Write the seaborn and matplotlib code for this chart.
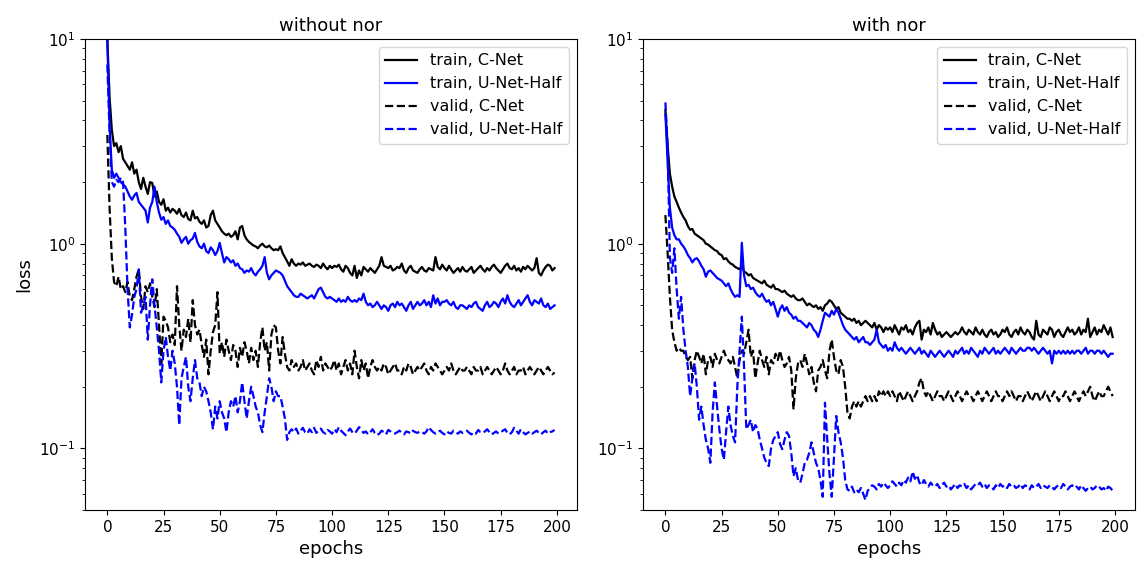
import numpy as np
import pandas as pd
import matplotlib
matplotlib.use("Agg")
import matplotlib.pyplot as plt
import seaborn as sns

epochs = list(range(200))

# ---- without nor ----
left_train_cnet = [
    10.0, 5.2, 3.6, 3.0, 3.1, 2.8, 3.0, 2.6, 2.5, 2.4,
    2.3, 2.5, 2.2, 2.3, 2.0, 1.85, 2.1, 1.9, 1.75, 2.0,
    1.98, 1.7, 1.8, 1.6, 1.55, 1.65, 1.45, 1.5, 1.42, 1.48,
    1.45, 1.4, 1.48, 1.38, 1.35, 1.42, 1.32, 1.3, 1.45, 1.33,
    1.35, 1.28, 1.25, 1.3, 1.2, 1.22, 1.38, 1.45, 1.3, 1.25,
    1.2, 1.15, 1.12, 1.1, 1.12, 1.08, 1.1, 1.15, 1.05, 1.2,
    1.22, 1.1, 1.05, 1.02, 1.0, 0.98, 0.97, 0.95, 0.98, 1.0,
    0.97, 0.96, 0.98, 0.95, 0.93, 0.94, 0.93, 0.97, 0.9, 0.86,
    0.82, 0.78, 0.84, 0.8, 0.78, 0.8, 0.79, 0.81, 0.78, 0.79,
    0.8, 0.78, 0.77, 0.79, 0.78, 0.76, 0.8, 0.77, 0.75, 0.78,
    0.76, 0.78, 0.77, 0.79, 0.75, 0.73, 0.78, 0.76, 0.72, 0.7,
    0.78, 0.68, 0.74, 0.7, 0.77, 0.75, 0.73, 0.76, 0.74, 0.72,
    0.75, 0.78, 0.86, 0.78, 0.77, 0.76, 0.78, 0.74, 0.75, 0.77,
    0.76, 0.8, 0.74, 0.72, 0.76, 0.78, 0.74, 0.73, 0.72, 0.75,
    0.77, 0.74, 0.73, 0.76, 0.75, 0.74, 0.86, 0.77, 0.75, 0.79,
    0.76, 0.74, 0.78, 0.75, 0.72, 0.74, 0.76, 0.73, 0.77, 0.74,
    0.73, 0.75, 0.77, 0.72, 0.74, 0.76, 0.78, 0.75, 0.73, 0.76,
    0.74, 0.77, 0.79, 0.76, 0.74, 0.72, 0.75, 0.78, 0.8, 0.76,
    0.75, 0.78, 0.74, 0.76, 0.73, 0.77, 0.75, 0.78, 0.76, 0.74,
    0.76, 0.85, 0.72, 0.7, 0.74, 0.77, 0.79, 0.78, 0.74, 0.76,
]
left_train_unet = [
    10.0, 3.8, 2.3, 2.1, 2.2, 2.1, 2.0, 1.95, 1.9, 1.8,
    1.7, 1.64, 1.72, 1.77, 1.6, 1.55, 1.5, 1.45, 1.27, 1.5,
    1.6, 1.9, 1.6, 1.42, 1.31, 1.35, 1.25, 1.3, 1.22, 1.2,
    1.17, 1.12, 1.08, 1.01, 1.05, 1.08, 1.0, 1.04, 1.06, 1.13,
    1.02, 0.97, 0.95, 1.0, 0.92, 0.9, 0.96, 0.93, 0.88, 0.92,
    1.01, 0.9, 0.81, 0.86, 0.84, 0.81, 0.83, 0.78, 0.8, 0.76,
    0.75, 0.72, 0.74, 0.73, 0.76, 0.72, 0.7, 0.73, 0.75, 0.78,
    0.86, 0.72, 0.67, 0.7, 0.72, 0.74, 0.73, 0.72, 0.7, 0.66,
    0.62, 0.6, 0.58, 0.56, 0.55, 0.55, 0.57, 0.56, 0.55, 0.54,
    0.55, 0.56, 0.54, 0.57, 0.6, 0.61, 0.58, 0.55, 0.54, 0.55,
    0.54, 0.53, 0.52, 0.54, 0.52, 0.53, 0.52, 0.55, 0.53, 0.52,
    0.53, 0.52, 0.54, 0.53, 0.57, 0.52, 0.5, 0.51, 0.49, 0.5,
    0.52, 0.5, 0.48, 0.5, 0.49, 0.47, 0.5, 0.51, 0.49, 0.52,
    0.5, 0.51, 0.49, 0.47, 0.5, 0.52, 0.48, 0.5, 0.52, 0.5,
    0.51, 0.53, 0.5, 0.52, 0.49, 0.56, 0.51, 0.54, 0.5, 0.52,
    0.52, 0.53, 0.51, 0.5, 0.52, 0.49, 0.48, 0.5, 0.5, 0.49,
    0.48, 0.5, 0.49, 0.51, 0.52, 0.49, 0.48, 0.47, 0.5, 0.52,
    0.49, 0.5, 0.52, 0.51, 0.49, 0.52, 0.54, 0.51, 0.56, 0.52,
    0.5, 0.49, 0.51, 0.53, 0.5, 0.52, 0.54, 0.56, 0.52, 0.5,
    0.53, 0.52, 0.51, 0.54, 0.5, 0.49, 0.51, 0.48, 0.49, 0.5,
]
left_valid_cnet = [
    3.4, 1.5, 0.85, 0.65, 0.62, 0.69, 0.6, 0.62, 0.58, 0.65,
    0.55, 0.53, 0.6, 0.69, 0.75, 0.55, 0.48, 0.62, 0.58, 0.64,
    0.55, 0.49, 0.6, 0.4, 0.26, 0.44, 0.42, 0.39, 0.33, 0.36,
    0.32, 0.62, 0.4, 0.3, 0.38, 0.35, 0.43, 0.33, 0.53, 0.4,
    0.36, 0.38, 0.32, 0.28, 0.34, 0.23, 0.3, 0.37, 0.4, 0.58,
    0.29, 0.33, 0.28, 0.34, 0.3, 0.27, 0.32, 0.3, 0.25, 0.31,
    0.28, 0.33, 0.3, 0.26, 0.31, 0.27, 0.3, 0.25, 0.33, 0.39,
    0.3, 0.33, 0.24, 0.36, 0.4, 0.39, 0.3, 0.26, 0.35, 0.29,
    0.25, 0.24, 0.27, 0.25, 0.26, 0.24, 0.25, 0.27, 0.24, 0.25,
    0.26, 0.24, 0.23, 0.27, 0.25, 0.28, 0.24, 0.26, 0.25, 0.24,
    0.25, 0.27, 0.24, 0.26, 0.23, 0.25, 0.27, 0.24, 0.26, 0.23,
    0.3, 0.25, 0.22, 0.27, 0.24, 0.26, 0.22, 0.25, 0.27, 0.25,
    0.24, 0.25, 0.24, 0.26, 0.25, 0.23, 0.24, 0.25, 0.26, 0.24,
    0.24, 0.23, 0.25, 0.24, 0.26, 0.25, 0.23, 0.24, 0.25, 0.24,
    0.25, 0.26, 0.24, 0.23, 0.25, 0.24, 0.26, 0.25, 0.24, 0.23,
    0.24, 0.25, 0.24, 0.26, 0.24, 0.23, 0.24, 0.25, 0.24, 0.24,
    0.25, 0.24, 0.23, 0.25, 0.24, 0.24, 0.25, 0.23, 0.24, 0.25,
    0.24, 0.23, 0.24, 0.25, 0.24, 0.23, 0.24, 0.26, 0.24, 0.23,
    0.24, 0.25, 0.23, 0.24, 0.24, 0.25, 0.23, 0.24, 0.25, 0.24,
    0.23, 0.24, 0.25, 0.24, 0.23, 0.24, 0.25, 0.24, 0.23, 0.235,
]
left_valid_unet = [
    7.5, 3.5, 2.0, 1.9, 2.05, 2.0, 2.1, 2.0, 1.2, 0.6,
    0.39, 0.45, 0.55, 0.6, 0.75, 0.46, 0.5, 0.55, 0.34, 0.5,
    0.67, 0.5, 0.39, 0.3, 0.21, 0.3, 0.35, 0.28, 0.24, 0.3,
    0.26, 0.2, 0.13, 0.22, 0.25, 0.28, 0.2, 0.17, 0.22, 0.27,
    0.22, 0.21, 0.18, 0.2, 0.19, 0.17, 0.15, 0.124, 0.16, 0.14,
    0.17, 0.15, 0.14, 0.12, 0.15, 0.17, 0.16, 0.18, 0.15, 0.17,
    0.21, 0.17, 0.14, 0.17, 0.2, 0.18, 0.16, 0.15, 0.13, 0.12,
    0.15, 0.18, 0.22, 0.2, 0.17, 0.19, 0.18, 0.18, 0.16, 0.14,
    0.11, 0.12, 0.124, 0.12, 0.125, 0.118, 0.122, 0.126, 0.12, 0.118,
    0.124, 0.12, 0.126, 0.119, 0.122, 0.125, 0.12, 0.118, 0.123, 0.121,
    0.118, 0.124, 0.12, 0.127, 0.122, 0.119, 0.116, 0.121, 0.125, 0.12,
    0.118, 0.122, 0.127, 0.123, 0.119, 0.121, 0.117, 0.12, 0.124, 0.119,
    0.116, 0.118, 0.122, 0.12, 0.117, 0.123, 0.121, 0.119, 0.118, 0.12,
    0.122, 0.119, 0.117, 0.121, 0.12, 0.118, 0.122, 0.12, 0.119, 0.121,
    0.12, 0.118, 0.121, 0.127, 0.123, 0.12, 0.118, 0.12, 0.122, 0.119,
    0.117, 0.121, 0.119, 0.118, 0.122, 0.12, 0.118, 0.121, 0.119, 0.12,
    0.122, 0.119, 0.117, 0.12, 0.118, 0.123, 0.12, 0.119, 0.121, 0.124,
    0.12, 0.117, 0.119, 0.121, 0.118, 0.12, 0.122, 0.124, 0.119, 0.117,
    0.12, 0.126, 0.122, 0.118, 0.124, 0.12, 0.117, 0.119, 0.121, 0.118,
    0.12, 0.122, 0.119, 0.117, 0.12, 0.122, 0.118, 0.12, 0.121, 0.123,
]

# ---- with nor ----
right_train_cnet = [
    4.5, 3.0, 2.2, 1.9, 1.7, 1.6, 1.5, 1.42, 1.35, 1.3,
    1.22, 1.17, 1.18, 1.12, 1.1, 1.08, 1.06, 1.04, 1.0, 0.99,
    0.97, 0.95, 0.93, 0.92, 0.89, 0.88, 0.84, 0.85, 0.82, 0.8,
    0.79, 0.77, 0.76, 0.75, 0.78, 0.73, 0.72, 0.7, 0.71, 0.68,
    0.67, 0.66, 0.65, 0.64, 0.66, 0.63, 0.62, 0.61, 0.63, 0.6,
    0.6, 0.59, 0.58, 0.59, 0.57, 0.56, 0.55, 0.56, 0.54, 0.53,
    0.53, 0.54, 0.52, 0.5, 0.51, 0.5, 0.49, 0.5, 0.48, 0.49,
    0.47, 0.5, 0.51, 0.53, 0.52, 0.5, 0.48, 0.49, 0.46, 0.45,
    0.44, 0.43, 0.43, 0.42, 0.43, 0.41, 0.42, 0.4, 0.41, 0.42,
    0.41, 0.4, 0.39, 0.41, 0.38, 0.4, 0.39, 0.37, 0.39, 0.38,
    0.39, 0.37, 0.4, 0.38, 0.36, 0.39, 0.38, 0.4, 0.37, 0.38,
    0.36, 0.39, 0.41, 0.42, 0.34, 0.38, 0.37, 0.39, 0.36, 0.41,
    0.38, 0.36, 0.37, 0.35, 0.36, 0.37, 0.36, 0.35, 0.36, 0.37,
    0.36, 0.37, 0.39, 0.37, 0.36, 0.38, 0.37, 0.36, 0.39, 0.37,
    0.36, 0.38, 0.36, 0.35, 0.37, 0.38, 0.36, 0.37, 0.35, 0.36,
    0.38, 0.37, 0.39, 0.36, 0.35, 0.37, 0.38, 0.36, 0.39, 0.37,
    0.36, 0.38, 0.37, 0.35, 0.34, 0.42, 0.36, 0.35, 0.38, 0.37,
    0.36, 0.39, 0.38, 0.35, 0.37, 0.38, 0.36, 0.35, 0.37, 0.39,
    0.37, 0.38, 0.36, 0.37, 0.39, 0.36, 0.38, 0.37, 0.43, 0.35,
    0.37, 0.39, 0.36, 0.38, 0.37, 0.4, 0.38, 0.36, 0.39, 0.35,
]
right_train_unet = [
    4.3, 2.5, 1.5, 1.2, 1.1, 1.05, 1.05, 1.0, 0.97, 0.93,
    0.88, 0.85, 0.81, 0.84, 0.85, 0.82, 0.78, 0.75, 0.69, 0.73,
    0.74, 0.72, 0.7, 0.68, 0.67, 0.66, 0.64, 0.62, 0.64, 0.6,
    0.57, 0.55, 0.56, 0.55, 1.01, 0.7, 0.62, 0.63, 0.6, 0.61,
    0.58, 0.56, 0.55, 0.57, 0.54, 0.52, 0.53, 0.5, 0.52, 0.48,
    0.44, 0.48, 0.5, 0.47, 0.49, 0.46, 0.45, 0.43, 0.44, 0.42,
    0.42, 0.41, 0.4, 0.39, 0.41, 0.4, 0.38, 0.37, 0.35, 0.38,
    0.42, 0.46, 0.45, 0.44, 0.47, 0.45, 0.48, 0.46, 0.43, 0.4,
    0.38, 0.37, 0.36, 0.35, 0.34, 0.35, 0.33, 0.34, 0.35, 0.33,
    0.33, 0.32, 0.33, 0.34, 0.38, 0.33, 0.32, 0.31, 0.32, 0.3,
    0.31, 0.3, 0.33, 0.31, 0.3, 0.31, 0.3, 0.29, 0.3, 0.31,
    0.3, 0.29, 0.3, 0.31, 0.29, 0.3, 0.29, 0.28, 0.3, 0.29,
    0.28, 0.29, 0.3, 0.29, 0.28, 0.29, 0.3, 0.29, 0.28, 0.3,
    0.29, 0.3, 0.31, 0.29, 0.3, 0.29, 0.31, 0.3, 0.29, 0.28,
    0.3, 0.29, 0.31, 0.3, 0.29, 0.3, 0.31, 0.29, 0.3, 0.29,
    0.3, 0.31, 0.3, 0.29, 0.31, 0.3, 0.29, 0.3, 0.31, 0.3,
    0.3, 0.31, 0.31, 0.3, 0.31, 0.3, 0.29, 0.3, 0.31, 0.3,
    0.29, 0.3, 0.26, 0.3, 0.29, 0.3, 0.29, 0.3, 0.29, 0.3,
    0.29, 0.3, 0.29, 0.3, 0.3, 0.29, 0.3, 0.31, 0.29, 0.3,
    0.3, 0.29, 0.3, 0.3, 0.29, 0.3, 0.29, 0.28, 0.29, 0.29,
]
right_valid_cnet = [
    1.38, 0.9, 0.55, 0.38, 0.33, 0.3, 0.31, 0.3, 0.3, 0.28,
    0.27, 0.28, 0.22, 0.27, 0.3, 0.28, 0.26, 0.29, 0.23, 0.27,
    0.28, 0.25, 0.29, 0.27, 0.26, 0.28, 0.3, 0.28, 0.27, 0.26,
    0.28, 0.25, 0.22, 0.27, 0.3, 0.29, 0.33, 0.38, 0.28, 0.3,
    0.22, 0.26, 0.3, 0.27, 0.25, 0.28, 0.23, 0.27, 0.26, 0.29,
    0.27, 0.3, 0.27, 0.25, 0.26, 0.28, 0.24, 0.155, 0.22, 0.26,
    0.27, 0.25, 0.29, 0.26, 0.23, 0.25, 0.21, 0.19, 0.24, 0.25,
    0.27, 0.24, 0.22, 0.3, 0.34, 0.28, 0.24, 0.23, 0.27, 0.25,
    0.2, 0.15, 0.14, 0.16, 0.17, 0.16, 0.17, 0.16, 0.17, 0.18,
    0.17, 0.18, 0.17, 0.18, 0.17, 0.19, 0.18, 0.19, 0.18, 0.19,
    0.18, 0.19, 0.18, 0.17, 0.19, 0.18, 0.17, 0.18, 0.19, 0.18,
    0.17, 0.18, 0.19, 0.21, 0.22, 0.19, 0.18, 0.19, 0.18, 0.17,
    0.18, 0.19, 0.18, 0.18, 0.17, 0.18, 0.19, 0.18, 0.17, 0.18,
    0.19, 0.18, 0.17, 0.18, 0.19, 0.18, 0.18, 0.17, 0.18, 0.19,
    0.18, 0.17, 0.18, 0.19, 0.18, 0.17, 0.18, 0.19, 0.18, 0.18,
    0.17, 0.18, 0.19, 0.18, 0.19, 0.18, 0.17, 0.18, 0.18, 0.17,
    0.18, 0.19, 0.18, 0.17, 0.18, 0.19, 0.18, 0.17, 0.18, 0.19,
    0.18, 0.17, 0.18, 0.19, 0.18, 0.17, 0.18, 0.18, 0.19, 0.18,
    0.17, 0.18, 0.19, 0.18, 0.17, 0.18, 0.19, 0.18, 0.19, 0.2,
    0.18, 0.17, 0.18, 0.19, 0.18, 0.18, 0.19, 0.2, 0.19, 0.18,
]
right_valid_unet = [
    4.9, 3.0, 0.86, 0.72, 0.95, 0.6, 0.43, 0.55, 0.38, 0.3,
    0.25, 0.18, 0.22, 0.26, 0.2, 0.138, 0.16, 0.13, 0.11, 0.1,
    0.085, 0.15, 0.21, 0.16, 0.124, 0.1, 0.088, 0.12, 0.16, 0.13,
    0.115, 0.107, 0.2, 0.3, 0.44, 0.25, 0.124, 0.13, 0.138, 0.12,
    0.13, 0.125, 0.11, 0.1, 0.09, 0.085, 0.082, 0.1, 0.11, 0.115,
    0.12, 0.105, 0.099, 0.11, 0.12, 0.115, 0.095, 0.073, 0.08, 0.07,
    0.068, 0.075, 0.085, 0.088, 0.095, 0.107, 0.095, 0.085, 0.08, 0.07,
    0.058, 0.167, 0.11, 0.075, 0.058, 0.09, 0.144, 0.12, 0.107, 0.09,
    0.07, 0.063, 0.062, 0.065, 0.061, 0.063, 0.061, 0.064, 0.06, 0.056,
    0.062, 0.064, 0.066, 0.065, 0.063, 0.067, 0.065, 0.068, 0.066, 0.064,
    0.066, 0.069, 0.067, 0.065, 0.068, 0.066, 0.07, 0.068, 0.072, 0.069,
    0.077, 0.071, 0.074, 0.068, 0.066, 0.07, 0.067, 0.065, 0.068, 0.066,
    0.065, 0.067, 0.064, 0.066, 0.068, 0.065, 0.066, 0.063, 0.065, 0.067,
    0.064, 0.066, 0.065, 0.067, 0.064, 0.066, 0.063, 0.065, 0.067, 0.066,
    0.068, 0.065, 0.067, 0.064, 0.066, 0.065, 0.063, 0.066, 0.064, 0.067,
    0.065, 0.066, 0.064, 0.067, 0.065, 0.066, 0.064, 0.065, 0.067, 0.064,
    0.066, 0.065, 0.063, 0.066, 0.064, 0.065, 0.067, 0.064, 0.066, 0.065,
    0.064, 0.066, 0.065, 0.063, 0.065, 0.066, 0.064, 0.067, 0.065, 0.063,
    0.065, 0.066, 0.064, 0.065, 0.063, 0.066, 0.064, 0.062, 0.064, 0.065,
    0.063, 0.064, 0.066, 0.065, 0.063, 0.064, 0.062, 0.065, 0.064, 0.062,
]

series_labels = ["train, C-Net", "train, U-Net-Half", "valid, C-Net", "valid, U-Net-Half"]
series_colors = ["black", "blue", "black", "blue"]
series_styles = ["-", "-", "--", "--"]
panel_titles = ["without nor", "with nor"]

panels = [
    [left_train_cnet, left_train_unet, left_valid_cnet, left_valid_unet],
    [right_train_cnet, right_train_unet, right_valid_cnet, right_valid_unet],
]

fig = plt.figure(figsize=(11.45, 5.66), dpi=100)
ax1 = fig.add_axes([0.0742, 0.099, 0.4297, 0.832])
ax2 = fig.add_axes([0.5616, 0.099, 0.4297, 0.832])

for ax, data, title in zip([ax1, ax2], panels, panel_titles):
    for vals, lab, col, ls in zip(data, series_labels, series_colors, series_styles):
        df = pd.DataFrame({"epoch": epochs, "loss": vals})
        sns.lineplot(data=df, x="epoch", y="loss", ax=ax, color=col,
                     linestyle=ls, label=lab, linewidth=1.6)
    ax.set_yscale("log")
    ax.set_ylim(0.05, 10)
    ax.set_xlim(-9.95, 208.95)
    ax.set_xticks([0, 25, 50, 75, 100, 125, 150, 175, 200])
    ax.set_title(title, fontsize=13)
    ax.set_xlabel("epochs", fontsize=13)
    ax.set_ylabel("")
    ax.tick_params(labelsize=11)
    ax.legend(loc="upper right", fontsize=11.5)

ax1.set_ylabel("loss", fontsize=13)

fig.savefig("out.png", dpi=100)
